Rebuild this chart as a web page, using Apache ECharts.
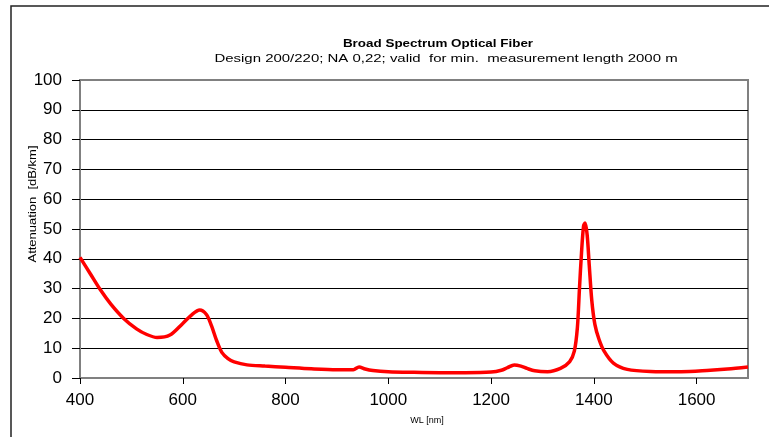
<!DOCTYPE html>
<html>
  <head>
    <meta charset="utf-8">
    <title>Broad Spectrum Optical Fiber</title>
    <script src="https://cdn.jsdelivr.net/npm/echarts@6/dist/echarts.min.js"></script>
    <style>
      html, body { margin: 0; padding: 0; background: #fff; }
      #main { width: 769px; height: 437px; }
    </style>
  </head>
  <body>
    <div id="main"></div>
    <script type="text/javascript">
      // wavelength [nm] and attenuation [dB/km]
      var wavelengths = [400, 420, 440, 460, 485, 510, 530, 550, 575, 600, 618, 633, 646, 656, 666, 676, 688, 700, 725, 760,
        800, 850, 900, 932, 943, 955, 970, 1000, 1050, 1100, 1150, 1200, 1220, 1232, 1245, 1258, 1270, 1285, 1310, 1335,
        1353, 1362, 1368, 1372, 1376, 1380, 1383, 1387, 1391, 1396, 1402, 1410, 1420, 1438, 1465, 1510, 1570, 1620, 1660, 1700];
      var attenuation = [40.5, 35, 29.5, 24.8, 20, 16.5, 14.6, 13.6, 14.4, 18.3, 21.3, 22.8, 21.3, 17.5, 12.5, 8.6, 6.5, 5.4, 4.4, 4,
        3.6, 3.1, 2.8, 2.8, 3.7, 3, 2.5, 2.1, 1.9, 1.8, 1.8, 2.0, 2.6, 3.5, 4.4, 4.0, 3.2, 2.4, 2.1, 3.2,
        5.5, 9, 17, 30, 42, 51, 52, 48, 38, 26, 18, 13, 9, 5, 2.9, 2.2, 2.1, 2.5, 3, 3.7];
      var titleText = 'Broad Spectrum Optical Fiber';
      var subText = 'Design 200/220; NA 0,22; valid  for min.  measurement length 2000 m';

      var points = [];
      for (var i = 0; i < wavelengths.length; i++) {
        points.push([wavelengths[i], attenuation[i]]);
      }

      // top line (100) is the grey frame, the rest black
      var splitColors = ['#808080', '#000', '#000', '#000', '#000', '#000', '#000', '#000', '#000', '#000', '#808080'];
      var fam = 'Liberation Sans, Arial, sans-serif';

      var myChart = echarts.init(document.getElementById('main'));
      myChart.setOption({
        animation: false,
        textStyle: { fontFamily: fam },
        graphic: [
          { type: 'rect', shape: { x: 11, y: 6, width: 800, height: 500 },
            style: { fill: 'none', stroke: '#222', lineWidth: 1.5 } },
          { type: 'text', x: 438, y: 44, scaleX: 1.22, style: { text: titleText, fill: '#000',
            font: 'bold 11px ' + fam, align: 'center', verticalAlign: 'middle' } },
          { type: 'text', x: 446, y: 59, scaleX: 1.36, style: { text: subText, fill: '#000',
            font: '11px ' + fam, align: 'center', verticalAlign: 'middle' } },
          { type: 'text', x: 33, y: 204, rotation: Math.PI / 2, scaleX: 1.3, style: { text: 'Attenuation  [dB/km]', fill: '#000',
            font: '10px ' + fam, align: 'center', verticalAlign: 'middle' } },
          { type: 'text', x: 427, y: 421, style: { text: 'WL [nm]', fill: '#000',
            font: '9px ' + fam, align: 'center', verticalAlign: 'middle' } }
        ],
        grid: { left: 80, right: 21, top: 80, bottom: 59, show: true, borderColor: '#808080', borderWidth: 2 },
        xAxis: {
          type: 'value', min: 400, max: 1700, interval: 200,
          axisLine: { lineStyle: { color: '#808080', width: 2 } },
          axisTick: { show: true, length: 6, lineStyle: { color: '#000' } },
          axisLabel: { color: '#000', fontSize: 17, margin: 14, showMaxLabel: false,
            formatter: function (v) { return String(v); } },
          splitLine: { show: false }
        },
        yAxis: {
          type: 'value', min: 0, max: 100, interval: 10,
          axisLine: { show: true, lineStyle: { color: '#808080', width: 2 } },
          axisTick: { show: true, length: 8, lineStyle: { color: '#000' } },
          axisLabel: { color: '#000', fontSize: 17, margin: 18 },
          splitLine: { show: true, lineStyle: { color: splitColors, width: 1.2 } }
        },
        series: [{
          type: 'line',
          data: points,
          smooth: 0.3,
          symbol: 'none',
          lineStyle: { color: '#ff0000', width: 3.5 },
          z: 5
        }]
      });
    </script>
  </body>
</html>
